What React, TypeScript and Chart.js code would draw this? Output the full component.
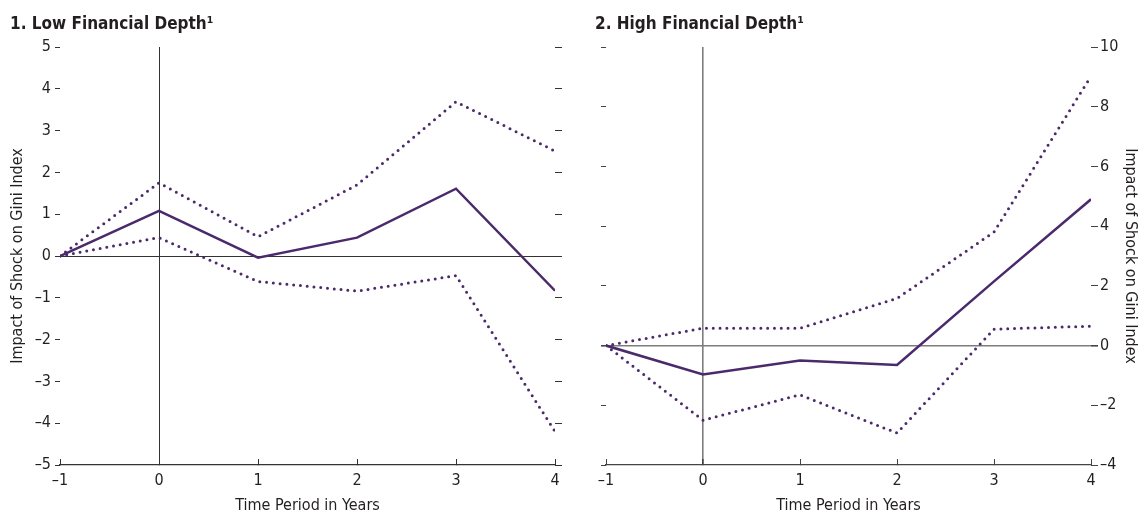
import React, { useEffect, useRef } from 'react';
import { Chart, registerables } from 'chart.js';

Chart.register(...registerables);

// Years relative to the shock
const years = [-1, 0, 1, 2, 3, 4];

// Panel 1: low financial depth (point estimate and confidence band)
const lowEstimate = [0, 1.08, -0.04, 0.44, 1.61, -0.83];
const lowUpper = [0, 1.75, 0.46, 1.7, 3.69, 2.51];
const lowLower = [0, 0.44, -0.61, -0.84, -0.47, -4.2];
const lowYTicks = [-5, -4, -3, -2, -1, 0, 1, 2, 3, 4, 5];

// Panel 2: high financial depth (point estimate and confidence band)
const highEstimate = [0, -0.97, -0.5, -0.65, 2.15, 4.9];
const highUpper = [0, 0.58, 0.58, 1.58, 3.8, 9.02];
const highLower = [0, -2.5, -1.65, -2.93, 0.55, 0.65];
const highYTicks = [-4, -2, 0, 2, 4, 6, 8, 10];

const FONT = "'Liberation Sans Narrow', 'Arial Narrow', 'DejaVu Sans Condensed', 'Liberation Sans', sans-serif";
const PURPLE = '#4b2a6b';
const TEXT = '#231f20';

const fmt = (v: number) => (v < 0 ? '\u2013' + Math.abs(v) : String(v));

type Panel = {
  title: string;
  estimate: number[];
  upper: number[];
  lower: number[];
  yTicks: number[];
  labelSide: 'left' | 'right';
  leftWidth: number;
  rightWidth: number;
  axisColor: string;
  zeroColor: string;
  zeroWidth: number;
};

const lowPanel: Panel = {
  title: '1. Low Financial Depth\u00b9',
  estimate: lowEstimate,
  upper: lowUpper,
  lower: lowLower,
  yTicks: lowYTicks,
  labelSide: 'left',
  leftWidth: 50,
  rightWidth: 20,
  axisColor: '#333333',
  zeroColor: '#333333',
  zeroWidth: 1,
};

const highPanel: Panel = {
  title: '2. High Financial Depth\u00b9',
  estimate: highEstimate,
  upper: highUpper,
  lower: highLower,
  yTicks: highYTicks,
  labelSide: 'right',
  leftWidth: 11,
  rightWidth: 54,
  axisColor: '#444444',
  zeroColor: '#7d7d7d',
  zeroWidth: 1.6,
};

const toPoints = (vals: number[]) => years.map((x, i) => ({ x, y: vals[i] }));

function dotted(vals: number[]) {
  return {
    data: toPoints(vals),
    borderColor: PURPLE,
    borderWidth: 3,
    borderDash: [0, 6.8],
    borderCapStyle: 'round',
    pointRadius: 0,
    fill: false,
    tension: 0,
  };
}

function yScale(p: Panel, side: 'left' | 'right') {
  const labelled = p.labelSide === side;
  const lo = p.yTicks[0];
  const hi = p.yTicks[p.yTicks.length - 1];
  return {
    type: 'linear',
    position: side,
    min: lo,
    max: hi,
    afterBuildTicks: (s: any) => {
      s.ticks = p.yTicks.map((v) => ({ value: v }));
    },
    afterFit: (s: any) => {
      s.width = side === 'left' ? p.leftWidth : p.rightWidth;
    },
    ticks: {
      display: labelled,
      callback: (v: any) => fmt(Number(v)),
      color: TEXT,
      font: { family: FONT, size: 16 },
      padding: side === 'left' ? 4 : 2,
    },
    grid: {
      drawOnChartArea: side === 'left',
      drawTicks: true,
      tickLength: side === 'left' ? 5 : 7,
      tickColor: p.axisColor,
      color: (ctx: any) => (ctx.tick && ctx.tick.value === 0 ? p.zeroColor : 'rgba(0,0,0,0)'),
      lineWidth: (ctx: any) => (ctx.tick && ctx.tick.value === 0 ? p.zeroWidth : 1),
    },
    border: { display: false },
    title: {
      display: labelled,
      text: 'Impact of Shock on Gini Index',
      color: TEXT,
      font: { family: FONT, size: 16, lineHeight: 1 },
      padding: { top: side === 'left' ? 0 : 7, bottom: 0 },
    },
  };
}

function makeConfig(p: Panel): any {
  return {
    type: 'line',
    data: {
      datasets: [
        dotted(p.upper),
        {
          data: toPoints(p.estimate),
          borderColor: PURPLE,
          borderWidth: 2.5,
          pointRadius: 0,
          fill: false,
          tension: 0,
        },
        dotted(p.lower),
      ],
    },
    options: {
      animation: false,
      responsive: false,
      maintainAspectRatio: false,
      devicePixelRatio: 1,
      layout: { padding: 0 },
      plugins: {
        legend: { display: false },
        tooltip: { enabled: false },
        title: {
          display: true,
          text: p.title,
          align: 'start',
          color: TEXT,
          font: { family: FONT, size: 17, weight: 'bold', lineHeight: 1.2 },
          padding: { top: 14.8, bottom: 11.8 },
        },
      },
      scales: {
        x: {
          type: 'linear',
          min: years[0],
          max: years[years.length - 1],
          afterBuildTicks: (s: any) => {
            s.ticks = years.map((v) => ({ value: v }));
          },
          afterFit: (s: any) => {
            s.height = 51;
          },
          ticks: {
            callback: (v: any) => fmt(Number(v)),
            color: TEXT,
            font: { family: FONT, size: 16, lineHeight: 2.75 },
            padding: 0,
            maxRotation: 0,
            autoSkip: false,
          },
          grid: {
            drawOnChartArea: true,
            drawTicks: true,
            tickLength: -6,
            tickColor: p.axisColor,
            color: (ctx: any) => (ctx.tick && ctx.tick.value === 0 ? p.zeroColor : 'rgba(0,0,0,0)'),
            lineWidth: (ctx: any) => (ctx.tick && ctx.tick.value === 0 ? p.zeroWidth : 1),
          },
          border: { display: true, color: p.axisColor, width: 1.3 },
          title: {
            display: true,
            text: 'Time Period in Years',
            color: TEXT,
            font: { family: FONT, size: 16, lineHeight: 1.2 },
            padding: { top: 0, bottom: 1 },
          },
        },
        y: yScale(p, 'left'),
        y2: yScale(p, 'right'),
      },
    },
  };
}

function PanelChart({ panel, left, width }: { panel: Panel; left: number; width: number }) {
  const ref = useRef<HTMLCanvasElement | null>(null);
  useEffect(() => {
    if (!ref.current) return;
    const chart = new Chart(ref.current, makeConfig(panel));
    return () => chart.destroy();
  }, [panel]);
  return (
    <canvas
      ref={ref}
      width={width}
      height={516}
      style={{ position: 'absolute', left, top: 0, width, height: 516 }}
    />
  );
}

export default function App() {
  return (
    <div
      style={{
        position: 'absolute',
        left: 0,
        top: 0,
        width: 1145,
        height: 516,
        background: '#ffffff',
        overflow: 'hidden',
      }}
    >
      <PanelChart panel={lowPanel} left={10} width={565} />
      <PanelChart panel={highPanel} left={595} width={550} />
    </div>
  );
}
